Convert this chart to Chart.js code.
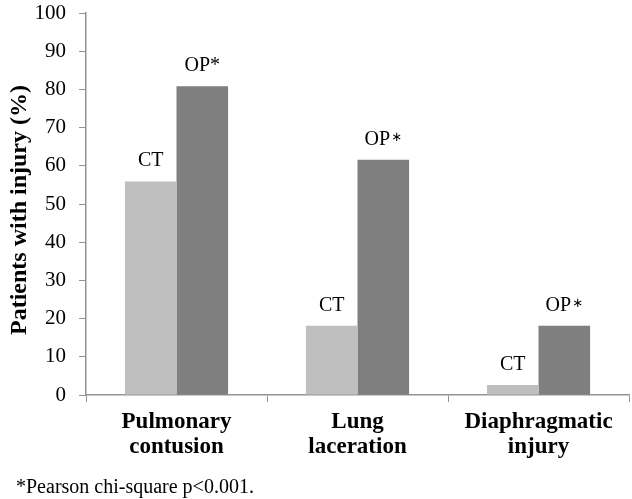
<!DOCTYPE html>
<html>
<head>
<meta charset="utf-8">
<script src="https://cdn.jsdelivr.net/npm/chart.js@4.4.0/dist/chart.umd.min.js"></script>
<style>
  html, body { margin: 0; padding: 0; background: #fff; }
  #wrap { width: 632px; height: 499px; }
</style>
</head>
<body>
<div id="wrap"><canvas id="chart" width="632" height="499"></canvas></div>
<script>
// data
var categories = [["Pulmonary", "contusion"], ["Lung", "laceration"], ["Diaphragmatic", "injury"]];
var ctValues = [55.9, 18.1, 2.6];
var opValues = [80.8, 61.6, 18.1];
var ctLabels = ["CT", "CT", "CT"];
var opLabels = ["OP*", "OP\u2217", "OP\u2217"];
var yTicks = [0, 10, 20, 30, 40, 50, 60, 70, 80, 90, 100];
var yTitle = "Patients with injury (%)";
var footnote = "*Pearson chi-square p<0.001.";

var axisGray = "#939393";
var serif = "'Liberation Serif', 'Times New Roman', serif";

// labels above each bar + axis title + footnote
const textPlugin = {
  id: "textPlugin",
  afterDraw(chart) {
    const ctx = chart.ctx;
    ctx.save();
    ctx.fillStyle = "#000";
    ctx.textBaseline = "alphabetic";
    chart.data.datasets.forEach((ds, i) => {
      const meta = chart.getDatasetMeta(i);
      meta.data.forEach((bar, j) => {
        const txt = ds.barLabels[j];
        const y = bar.y - 15;
        if (txt.endsWith("\u2217")) {
          // the math asterisk is smaller in the original
          const base = txt.slice(0, -1);
          ctx.font = "20px " + serif;
          const w1 = ctx.measureText(base).width;
          ctx.font = "13px 'DejaVu Sans'";
          const w2 = ctx.measureText("\u2217").width;
          const x0 = bar.x - (w1 + w2 + 1) / 2;
          ctx.textAlign = "left";
          ctx.font = "20px " + serif;
          ctx.fillText(base, x0, y);
          ctx.font = "13px 'DejaVu Sans'";
          ctx.fillText("\u2217", x0 + w1 + 1, y - 4);
        } else {
          ctx.textAlign = "center";
          ctx.font = "20px " + serif;
          ctx.fillText(txt, bar.x, y);
        }
      });
    });

    // y axis title
    ctx.textAlign = "center";
    ctx.save();
    ctx.translate(26, 210);
    ctx.rotate(-Math.PI / 2);
    ctx.font = "bold 24px " + serif;
    ctx.fillText(yTitle, 0, 0);
    ctx.restore();

    // footnote
    ctx.textAlign = "left";
    ctx.font = "20px " + serif;
    ctx.fillText(footnote, 16, 493);
    ctx.restore();
  }
};

new Chart(document.getElementById("chart").getContext("2d"), {
  type: "bar",
  data: {
    labels: categories,
    datasets: [{
      label: "CT",
      data: ctValues,
      barLabels: ctLabels,
      backgroundColor: "#bfbfbf",
      categoryPercentage: 0.57,
      barPercentage: 1.0
    }, {
      label: "OP",
      data: opValues,
      barLabels: opLabels,
      backgroundColor: "#7f7f7f",
      categoryPercentage: 0.57,
      barPercentage: 1.0
    }]
  },
  options: {
    responsive: false,
    maintainAspectRatio: false,
    animation: false,
    layout: { padding: { top: 13, right: 3, left: 0, bottom: 0 } },
    plugins: {
      legend: { display: false },
      tooltip: { enabled: false }
    },
    scales: {
      y: {
        min: 0,
        max: 100,
        afterFit: (s) => { s.width = 86; s.paddingTop = 0; s.paddingBottom = 0; },
        afterBuildTicks: (s) => { s.ticks = yTicks.map(v => ({ value: v })); },
        ticks: {
          color: "#000",
          padding: 13,
          font: { family: serif, size: 21 }
        },
        grid: {
          display: true,
          drawOnChartArea: false,
          drawTicks: true,
          tickLength: 7,
          color: axisGray
        },
        border: { display: true, color: axisGray, width: 1.5 }
      },
      x: {
        afterFit: (s) => { s.height = 104; s.paddingLeft = 0; s.paddingRight = 0; },
        ticks: {
          color: "#000",
          padding: 8,
          maxRotation: 0,
          font: { family: serif, size: 23, weight: "bold", lineHeight: 1.087 }
        },
        grid: {
          display: true,
          offset: true,
          drawOnChartArea: false,
          drawTicks: true,
          tickLength: 7,
          color: axisGray
        },
        border: { display: true, color: axisGray, width: 1.5 }
      }
    }
  },
  plugins: [textPlugin]
});
</script>
</body>
</html>
